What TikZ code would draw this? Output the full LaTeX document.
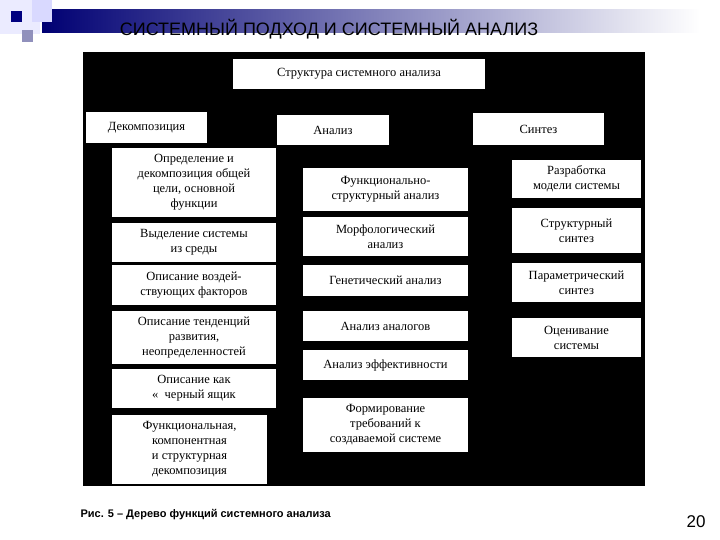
\documentclass[tikz,border=0pt]{standalone}
\usepackage{fontspec}
\setmainfont{Liberation Serif}
\newfontfamily\arialf{Liberation Sans}
\begin{document}
\begin{tikzpicture}[x=1pt,y=-1pt,
  bx/.style={fill=white,draw=none,align=center,font=\fontsize{12.5}{15}\selectfont,inner sep=0pt}]
\useasboundingbox (0,0) rectangle (720,540);
\fill[white] (0,0) rectangle (720,540);
% decoration
\shade[left color=blue!45!black,right color=white] (42,10) rectangle (700,33);
\fill[blue!8!white] (0,0) rectangle (40,34);
\fill[blue!15!white] (32,0) rectangle (52,22);
\fill[blue!50!black] (11,11) rectangle (22,22);
\fill[blue!25!gray!70!white] (22,30) rectangle (33,42);
\node[font=\arialf\fontsize{18}{20}\selectfont,anchor=center] (title) at (329,29) {СИСТЕМНЫЙ ПОДХОД И СИСТЕМНЫЙ АНАЛИЗ};
\fill[black] (83,52) rectangle (645,486);
% boxes: center, width, height
\node[bx,minimum width=252pt,minimum height=30pt] (top) at (359,74) {Структура системного анализа};
\node[bx,minimum width=121pt,minimum height=31pt] (dec) at (146.5,127.5) {Декомпозиция};
\node[bx,minimum width=112pt,minimum height=30pt] (an) at (333,130) {Анализ};
\node[bx,minimum width=131pt,minimum height=32pt] (syn) at (538.5,129) {Синтез};
% left
\node[bx,minimum width=164pt,minimum height=69pt] (l1) at (194,182.5) {Определение и\\декомпозиция общей\\цели, основной\\функции};
\node[bx,minimum width=164pt,minimum height=39pt] (l2) at (194,242.5) {Выделение системы\\из среды};
\node[bx,minimum width=164pt,minimum height=40pt] (l3) at (194,285) {Описание воздей-\\ствующих факторов};
\node[bx,minimum width=164pt,minimum height=53pt] (l4) at (194,337.5) {Описание тенденций\\развития,\\неопределенностей};
\node[bx,minimum width=164pt,minimum height=39pt] (l5) at (194,388.5) {Описание как\\«\ \ черный ящик};
\node[bx,minimum width=155pt,minimum height=69pt] (l6) at (189.5,449.5) {Функциональная,\\компонентная\\и структурная\\декомпозиция};
% middle
\node[bx,minimum width=165pt,minimum height=43pt] (m1) at (385.5,189.5) {Функционально-\\структурный анализ};
\node[bx,minimum width=165pt,minimum height=39pt] (m2) at (385.5,236.5) {Морфологический\\анализ};
\node[bx,minimum width=165pt,minimum height=31pt] (m3) at (385.5,280.5) {Генетический анализ};
\node[bx,minimum width=165pt,minimum height=30pt] (m4) at (385.5,326) {Анализ аналогов};
\node[bx,minimum width=165pt,minimum height=30pt] (m5) at (385.5,365) {Анализ эффективности};
\node[bx,minimum width=165pt,minimum height=54pt] (m6) at (385.5,425) {Формирование\\требований к\\создаваемой системе};
% right
\node[bx,minimum width=129pt,minimum height=38pt] (r1) at (576.5,179) {Разработка\\модели системы};
\node[bx,minimum width=129pt,minimum height=45pt] (r2) at (576.5,230.5) {Структурный\\синтез};
\node[bx,minimum width=129pt,minimum height=39pt] (r3) at (576.5,282.5) {Параметрический\\синтез};
\node[bx,minimum width=129pt,minimum height=39pt] (r4) at (576.5,337.5) {Оценивание\\системы};
% caption
\node[font=\arialf\bfseries\fontsize{11}{13}\selectfont,anchor=west] (cap) at (77,515) {Рис. 5 – Дерево функций системного анализа};
\node[font=\arialf\fontsize{17}{19}\selectfont] (num) at (696,522) {20};
\end{tikzpicture}
\end{document}
